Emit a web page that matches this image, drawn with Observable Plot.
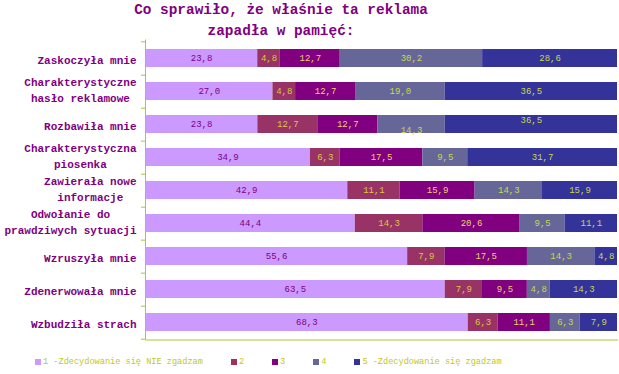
<!DOCTYPE html>
<html>
<head>
<meta charset="utf-8">
<script src="https://cdn.jsdelivr.net/npm/d3@7"></script>
<script src="https://cdn.jsdelivr.net/npm/@observablehq/plot@0.6"></script>
<style>
  html, body { margin: 0; padding: 0; background: #fff; }
  #wrap { position: relative; width: 619px; height: 374px; overflow: hidden; }
  #title { width: 562px; height: 38px; text-align: center; font-family: "Liberation Mono", monospace; font-weight: bold; font-size: 14.4px; line-height: 21px; color: #800080; padding-top: 0px; box-sizing: border-box; }
  #legend { position: absolute; left: 35px; top: 356px; display: flex; gap: 28px; font-family: "Liberation Mono", monospace; font-size: 8.6px; color: #c0c818; line-height: 12px; }
  #legend .item { display: flex; align-items: center; white-space: pre; }
  #legend .sw { width: 6px; height: 6px; margin-right: 2px; }
</style>
</head>
<body>
<div id="wrap">
  <div id="title">Co sprawiło, że właśnie ta reklama<br>zapadła w pamięć:</div>
  <div id="chart"></div>
  <div id="legend"></div>
</div>
<script>
const categories = [
  "Zaskoczyła mnie",
  "Charakterystyczne\nhasło reklamowe",
  "Rozbawiła mnie",
  "Charakterystyczna\npiosenka",
  "Zawierała nowe\ninformacje",
  "Odwołanie do\nprawdziwych sytuacji",
  "Wzruszyła mnie",
  "Zdenerwowała mnie",
  "Wzbudziła strach"
];
const levels = ["1 -Zdecydowanie się NIE zgadzam", "2", "3", "4", "5 -Zdecydowanie się zgadzam"];
const s1 = [23.8, 27.0, 23.8, 34.9, 42.9, 44.4, 55.6, 63.5, 68.3];
const s2 = [4.8, 4.8, 12.7, 6.3, 11.1, 14.3, 7.9, 7.9, 6.3];
const s3 = [12.7, 12.7, 12.7, 17.5, 15.9, 20.6, 17.5, 9.5, 11.1];
const s4 = [30.2, 19.0, 14.3, 9.5, 14.3, 9.5, 14.3, 4.8, 6.3];
const s5 = [28.6, 36.5, 36.5, 31.7, 15.9, 11.1, 4.8, 14.3, 7.9];
const series = [s1, s2, s3, s4, s5];

const colors = ["#cc99ff", "#993366", "#800080", "#666699", "#333399"];
const labelColors = ["#800080", "#d8c840", "#f0d070", "#c8d850", "#c8d850"];
const axisColor = "#a8c830";

const data = [];
categories.forEach((c, i) => {
  series.forEach((s, j) => data.push({cat: c, ci: i, level: levels[j], li: j, value: s[i]}));
});
const fmt = v => v.toFixed(1).replace(".", ",");
// label offsets seen in the original (row "Rozbawiła mnie": level 4 shifted down, level 5 shifted up)
const labelShift = d => (d.ci === 2 && d.li === 3) ? 6 : (d.ci === 2 && d.li === 4) ? -4 : 0;

const W = 619, H = 312, mt = 1.5, mb = 10.5, ml = 145, mr = 2;
const step = (H - mt - mb) / categories.length;
const mono = "'Liberation Mono', 'Courier New', monospace";
const cw = 11 * 0.6;

const labelMarks = categories.map(c => {
  const lines = c.split("\n");
  const maxLen = Math.max(...lines.map(s => s.length));
  return Plot.text([c], {
    y: d => d, text: d => d, frameAnchor: "left", textAnchor: "middle",
    dx: -9 - maxLen * cw / 2, dy: lines.length > 1 ? -2.5 : 0, fill: "#800080", fontWeight: "bold",
    fontSize: 11, fontFamily: mono, lineHeight: 1.45
  });
});

const valueMarks = [0, 6, -4].map(sh => Plot.text(data, Plot.stackX({
  x: "value", y: "cat", z: "level", offset: "normalize", order: null,
  text: d => labelShift(d) === sh ? fmt(d.value) : "",
  fill: d => labelColors[d.li], fontSize: 9, fontFamily: mono, dy: sh
})));

const chart = Plot.plot({
  width: W, height: H,
  marginTop: mt, marginBottom: mb, marginLeft: ml, marginRight: mr,
  style: {background: "transparent", fontFamily: mono},
  x: {domain: [0, 1], axis: null},
  y: {domain: categories, paddingInner: 0.46, paddingOuter: 0.23, axis: null},
  color: {domain: levels, range: colors},
  marks: [
    Plot.barX(data, Plot.stackX({x: "value", y: "cat", z: "level", fill: "level", offset: "normalize", order: null})),
    ...valueMarks,
    Plot.axisY({anchor: "left", tickSize: 4, text: null, label: null, dy: step / 2, stroke: axisColor}),
    Plot.axisY([categories[0]], {anchor: "left", tickSize: 4, text: null, label: null, dy: -step / 2, stroke: axisColor}),
    Plot.ruleX([0], {stroke: axisColor}),
    Plot.frame({anchor: "bottom", stroke: axisColor}),
    ...labelMarks
  ]
});
document.getElementById("chart").appendChild(chart);

const legend = document.getElementById("legend");
levels.forEach((l, j) => {
  const item = document.createElement("div");
  item.className = "item";
  const sw = document.createElement("span");
  sw.className = "sw";
  sw.style.background = colors[j];
  const t = document.createElement("span");
  t.textContent = l;
  item.appendChild(sw); item.appendChild(t);
  legend.appendChild(item);
});
</script>
</body>
</html>
